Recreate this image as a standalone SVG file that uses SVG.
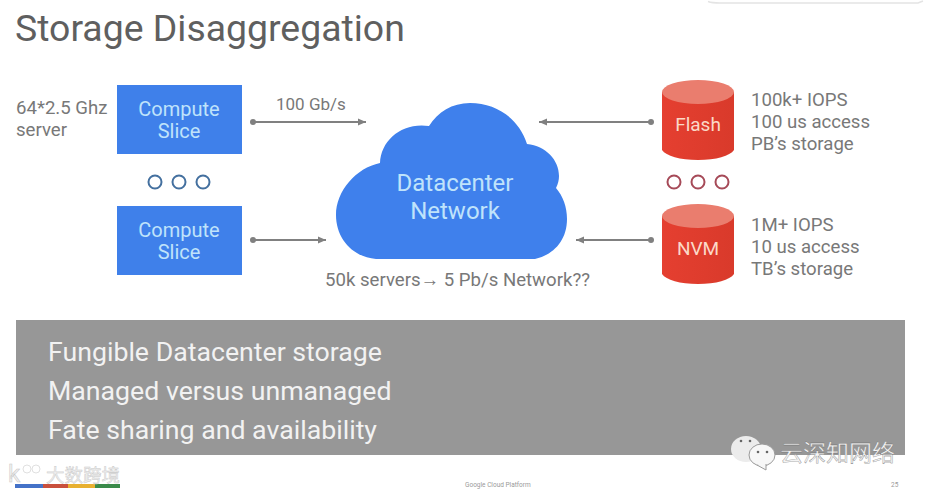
<svg xmlns="http://www.w3.org/2000/svg" width="925" height="493" viewBox="0 0 925 493">
<defs>
<marker id="ah" markerUnits="userSpaceOnUse" markerWidth="9" markerHeight="8" refX="8" refY="4" orient="auto"><path d="M0 0.500L8 4L0 7.500z" fill="#808080"/></marker>
<linearGradient id="cyl" x1="0" y1="0" x2="1" y2="0"><stop offset="0" stop-color="#e53f30"/><stop offset="1" stop-color="#d93a2b"/></linearGradient>
</defs>
<style>
text{font-family:Roboto,"Liberation Sans",sans-serif}
.g{fill:#787878;font-size:18.600px}
.w{fill:#bfe3fb;font-size:20px;text-anchor:middle}
.b{fill:#f2f2f2;font-size:26.700px}
.box{fill:#3f80ea}
.c{fill:url(#cyl)}
.top{fill:#ea7d6e}
.ob{fill:none;stroke:#44709f;stroke-width:2}
.or{fill:none;stroke:#a64a58;stroke-width:2}
.l{stroke:#808080;stroke-width:2;fill:none;marker-end:url(#ah)}
.d{fill:#808080}
.cjk{font-family:"Noto Sans CJK SC",sans-serif}
</style>
<rect width="925" height="493" fill="#fff"/>
<path d="M708 1.500Q712 3 720 3H918L923 1" fill="none" stroke="#e4e4e4" stroke-width="1.500"/>
<text x="15" y="41" font-size="37.400" fill="#5f5f5f" id="title">Storage Disaggregation</text>
<g id="connectors">
<circle class="d" cx="253" cy="122" r="3"/><path class="l" d="M253 122H366"/>
<circle class="d" cx="253" cy="240" r="3"/><path class="l" d="M253 240H326"/>
<circle class="d" cx="651" cy="122" r="3"/><path class="l" d="M651 122H539"/>
<circle class="d" cx="651" cy="240" r="3"/><path class="l" d="M651 240H576"/>
</g>
<g id="compute1"><rect class="box" x="117" y="85" width="125" height="69"/><text class="w" x="179" y="116">Compute</text><text class="w" x="179" y="138">Slice</text></g>
<g id="compute2"><rect class="box" x="117" y="206" width="125" height="69"/><text class="w" x="179" y="237">Compute</text><text class="w" x="179" y="259">Slice</text></g>
<g id="dots-blue"><circle class="ob" cx="155" cy="182" r="6.500"/><circle class="ob" cx="179" cy="182" r="6.500"/><circle class="ob" cx="203" cy="182" r="6.500"/></g>
<g id="server-label"><text class="g" x="16" y="114">64*2.5 Ghz</text><text class="g" x="16" y="136">server</text></g>
<text class="g" x="276" y="110" style="font-size:17px" id="speed-label">100 Gb/s</text>
<g id="cloud">
<path fill="#3f80ec" d="M376 259C352 257 336 238 336 215C336 191 356 168 380 163C381 140 402 122 429 126C438 112 452 103 470 103C497 103 519 119 527 144C546 146 559 160 559 176C559 180 558 184 556 188C563 196 567 207 567 219C567 241 553 255 535 259Z"/>
<text x="455" y="191" text-anchor="middle" font-size="24" fill="#bfe3fb">Datacenter</text>
<text x="455" y="219" text-anchor="middle" font-size="24" fill="#bfe3fb">Network</text>
</g>
<text class="g" x="325" y="286" id="cloud-label" textLength="265">50k servers→ 5 Pb/s Network??</text>
<g id="flash">
<path class="c" d="M662 92V150C666 156 680 160 698 160C716 160 730 156 734 150V92Z"/>
<ellipse class="top" cx="698" cy="92" rx="36" ry="12"/>
<text x="698" y="131" text-anchor="middle" font-size="19" fill="#fbd9c8">Flash</text>
</g>
<g id="dots-red"><circle class="or" cx="674" cy="182" r="6.500"/><circle class="or" cx="698" cy="182" r="6.500"/><circle class="or" cx="722" cy="182" r="6.500"/></g>
<g id="nvm">
<path class="c" d="M662 216V274C666 280 680 284 698 284C716 284 730 280 734 274V216Z"/>
<ellipse class="top" cx="698" cy="216" rx="36" ry="12"/>
<text x="698" y="255" text-anchor="middle" font-size="19" fill="#fbd9c8">NVM</text>
</g>
<g id="flash-label"><text class="g" x="751" y="106">100k+ IOPS</text><text class="g" x="751" y="128">100 us access</text><text class="g" x="751" y="150">PB’s storage</text></g>
<g id="nvm-label"><text class="g" x="751" y="231">1M+ IOPS</text><text class="g" x="751" y="253">10 us access</text><text class="g" x="751" y="275">TB’s storage</text></g>
<g id="banner">
<rect x="16" y="320" width="889" height="135" fill="#979797"/>
<text class="b" x="48" y="361">Fungible Datacenter storage</text>
<text class="b" x="48" y="400">Managed versus unmanaged</text>
<text class="b" x="48" y="439">Fate sharing and availability</text>
</g>
<g id="logo-bar"><rect x="15" y="484" width="28" height="4" fill="#4472c8"/><rect x="43" y="484" width="25" height="4" fill="#c9503c"/><rect x="68" y="484" width="27" height="4" fill="#e8b030"/><rect x="95" y="484" width="25" height="4" fill="#3a8a4a"/>
<text class="cjk" x="46" y="482" font-size="18.500" fill="#eeeeee" stroke="#c8c8c8" stroke-width=".4">大数跨境</text>
<text x="8" y="482" font-size="24" fill="#f1f1f1" stroke="#c8c8c8" stroke-width=".5">k</text>
<circle cx="27" cy="469" r="4" fill="none" stroke="#e0e0e0"/><circle cx="36" cy="469" r="4" fill="none" stroke="#e0e0e0"/>
</g>
<g id="watermark">
<ellipse cx="746" cy="449" rx="15" ry="13" fill="#ececec"/>
<ellipse cx="762" cy="455" rx="13" ry="11" fill="#f7f7f7" stroke="#9a9a9a"/>
<path d="M757 465L766 470L766 464" fill="#f7f7f7" stroke="#9a9a9a"/>
<circle cx="741" cy="441" r="1.300" fill="#666"/><circle cx="750" cy="441" r="1.300" fill="#666"/><circle cx="758" cy="452" r="1.300" fill="#666"/><circle cx="767" cy="452" r="1.300" fill="#666"/>
<text class="cjk" x="780" y="461" font-size="23" fill="#f4f4f4" stroke="#666" stroke-width=".3">云深知网络</text>
</g>
<g id="footer"><text x="465" y="487" font-size="6.500" fill="#9a9a9a">Google Cloud Platform</text><text x="891" y="487" font-size="6.500" fill="#9a9a9a">25</text></g>
</svg>
